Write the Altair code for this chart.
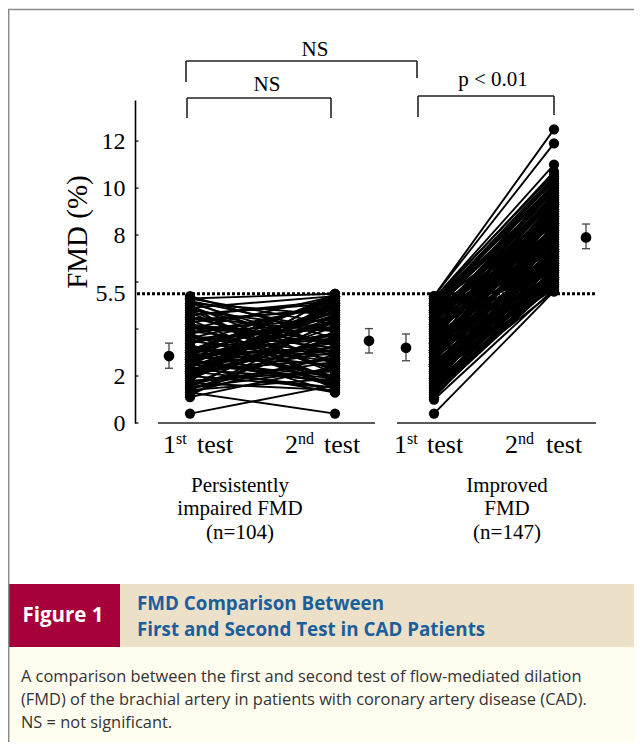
import altair as alt
import pandas as pd

# ---------------- data ----------------
PI_FIRST = [
    0.4, 1.1, 1.2, 1.3, 1.4, 1.5, 1.5, 1.6, 1.7, 1.8,
    1.8, 1.9, 2.0, 2.0, 2.1, 2.2, 2.2, 2.3, 2.3, 2.4,
    2.4, 2.5, 2.5, 2.6, 2.6, 2.7, 2.7, 2.8, 2.8, 2.9,
    2.9, 3.0, 3.0, 3.1, 3.1, 3.2, 3.3, 3.4, 3.5, 3.6,
    3.7, 3.8, 3.9, 4.0, 4.1, 4.2, 4.3, 4.4, 4.5, 4.6,
    4.7, 4.8, 4.9, 5.0, 5.1, 5.2, 5.3, 5.4, 1.3, 1.6,
    1.9, 2.1, 2.4, 2.6, 2.8, 3.0, 3.2, 3.5, 3.8, 4.1,
    4.4, 4.8, 5.2, 1.2, 1.7, 2.0, 2.3, 2.5, 2.7, 2.9,
    3.1, 3.3, 3.6, 3.9, 4.2, 4.6, 5.0, 5.3, 1.4, 1.8,
    2.2, 2.6, 3.0, 3.4, 3.7, 4.0, 4.5, 4.9, 1.5, 2.1,
    2.7, 3.2, 3.8, 5.1,
]
PI_SECOND = [
    1.6, 2.4, 3.9, 0.4, 1.9, 4.6, 2.8, 3.3, 1.4, 5.2,
    2.2, 4.1, 1.5, 3.6, 5.4, 2.7, 4.8, 1.8, 3.1, 4.4,
    1.3, 5.0, 3.4, 2.0, 4.3, 5.5, 1.7, 3.8, 2.5, 4.9,
    3.2, 1.6, 4.7, 2.9, 5.3, 3.7, 1.9, 4.5, 2.6, 5.1,
    3.0, 1.5, 4.2, 5.4, 2.3, 3.5, 4.9, 1.8, 3.9, 5.2,
    2.1, 4.0, 3.3, 1.4, 4.6, 2.8, 5.5, 3.6, 2.9, 4.3,
    5.1, 3.0, 4.5, 1.7, 3.8, 5.4, 2.4, 4.1, 1.6, 3.4,
    4.8, 2.2, 3.9, 4.4, 2.6, 5.0, 3.5, 1.9, 4.7, 3.1,
    5.3, 2.0, 4.0, 3.2, 1.8, 5.1, 2.5, 4.2, 3.7, 5.5,
    1.5, 4.6, 3.6, 5.2, 2.7, 4.4, 3.0, 5.4, 2.3, 4.9,
    3.8, 1.3, 5.0, 3.3,
]
IMP_FIRST = [
    0.4, 1.0, 1.1, 1.2, 1.3, 1.4, 1.5, 1.6, 1.7, 1.8,
    1.9, 2.0, 2.1, 2.2, 2.3, 2.4, 2.5, 2.6, 2.7, 2.8,
    2.9, 3.0, 3.1, 3.2, 3.3, 3.4, 3.5, 3.6, 3.7, 3.8,
    3.9, 4.0, 4.1, 4.2, 4.3, 4.4, 4.5, 4.6, 4.7, 4.8,
    4.9, 5.0, 5.1, 5.2, 5.3, 5.4, 5.4, 5.3, 5.2, 5.1,
    1.2, 1.5, 1.8, 2.1, 2.4, 2.7, 3.0, 3.3, 3.6, 3.9,
    4.2, 4.5, 4.8, 5.0, 1.4, 1.7, 2.0, 2.3, 2.6, 2.9,
    3.2, 3.5, 3.8, 4.1, 4.4, 4.7, 4.9, 1.3, 1.6, 1.9,
    2.2, 2.5, 2.8, 3.1, 3.4, 3.7, 4.0, 4.3, 4.6, 5.1,
    1.1, 1.5, 2.0, 2.4, 2.8, 3.2, 3.6, 4.0, 4.4, 4.8,
    1.4, 1.9, 2.3, 2.7, 3.1, 3.5, 3.9, 4.3, 4.7, 5.2,
    1.7, 2.2, 2.6, 3.0, 3.4, 3.8, 4.2, 4.6, 5.0, 2.5,
    2.9, 3.3, 3.7, 4.1, 4.5, 4.9, 2.1, 3.0, 3.9, 4.8,
    1.6, 2.4, 3.2, 4.0, 5.3, 2.8, 3.6, 4.4, 1.8, 3.4,
    2.6, 4.2, 3.1, 4.6, 2.0, 3.8, 5.0,
]
IMP_SECOND = [
    5.6, 5.7, 6.3, 5.9, 7.0, 6.1, 6.6, 7.4, 5.8, 6.9,
    7.8, 6.2, 7.1, 6.5, 8.3, 6.8, 7.5, 5.9, 8.0, 7.2,
    6.4, 8.6, 7.7, 9.0, 6.9, 8.2, 7.3, 9.4, 8.8, 6.7,
    9.1, 7.6, 8.5, 9.7, 6.6, 8.9, 9.9, 7.9, 10.2, 8.4,
    9.6, 10.4, 8.7, 10.7, 11.0, 12.5, 11.9, 9.3, 10.1, 9.8,
    6.0, 6.8, 7.3, 7.9, 6.4, 8.1, 7.0, 8.7, 9.2, 8.0,
    7.4, 9.5, 8.8, 10.3, 6.5, 7.6, 5.8, 7.2, 8.4, 7.9,
    6.3, 8.0, 9.6, 8.3, 10.0, 9.0, 7.7, 6.2, 5.6, 6.7,
    8.5, 7.0, 6.1, 8.9, 7.5, 7.1, 9.3, 8.6, 7.3, 10.5,
    6.6, 5.9, 6.9, 7.7, 8.2, 7.8, 6.5, 10.1, 9.4, 9.9,
    7.2, 6.3, 6.0, 7.4, 6.8, 9.8, 7.6, 9.2, 8.1, 10.0,
    6.2, 7.5, 6.7, 8.4, 9.1, 8.3, 10.2, 8.7, 9.7, 5.7,
    8.8, 6.6, 8.9, 7.1, 8.0, 10.4, 6.9, 7.3, 9.5, 8.5,
    6.4, 5.8, 8.6, 6.9, 10.6, 9.0, 7.8, 7.5, 7.0, 8.1,
    6.1, 8.2, 9.3, 9.6, 7.4, 6.0, 8.9,
]

MEAN_GROUPS = ["PI 1st", "PI 2nd", "IMP 1st", "IMP 2nd"]
MEAN_VALUES = [2.85, 3.5, 3.2, 7.9]
MEAN_LOW = [2.33, 2.98, 2.65, 7.42]
MEAN_HIGH = [3.4, 4.02, 3.79, 8.47]

CUTOFF = 5.5
Y_TICKS = [0, 2, 4, 6, 8, 10, 12]
Y_LABELS = [0, 2, 5.5, 8, 10, 12]

# ---------------- layout ----------------
PX0, PY0 = 135, 100
W, H = 495, 323
TOTAL_W = 626          # keep inside the page (642 minus both 8px margins)
BOTTOM = 742           # page row where the chart ends
RIGHT = 8 + TOTAL_W    # right edge in page pixels
Y_MAX = 13.75
XU = 5.0               # pixels per x unit
YU = H / Y_MAX


def ux(px):
    return (px - PX0) / XU


def uy(py):
    return (PY0 + H - py) / YU


SLOT = {"PI1": ux(190), "PI2": ux(335), "IMP1": ux(434), "IMP2": ux(554)}
MEAN_X = [ux(169), ux(369), ux(406), ux(586)]

SERIF = "Liberation Serif"
SANS = "Open Sans"

xs = alt.Scale(domain=[0, W / XU], nice=False, zero=False)
ys = alt.Scale(domain=[0, Y_MAX], nice=False, zero=False)

yaxis = alt.Axis(values=Y_LABELS, ticks=False, domain=True, domainColor="black",
                 domainWidth=1.6, labelFont=SERIF, labelFontSize=24, labelColor="black",
                 labelPadding=10, grid=False, title=None, format="~g")


def X(f):
    return alt.X(f, type="quantitative", scale=xs, axis=None)


def Y(f):
    return alt.Y(f, type="quantitative", scale=ys, axis=yaxis)


# ---------------- frames ----------------
rows = []
for i, (a, b) in enumerate(zip(PI_FIRST, PI_SECOND)):
    rows.append({"pid": f"p{i}", "x": SLOT["PI1"], "y": a})
    rows.append({"pid": f"p{i}", "x": SLOT["PI2"], "y": b})
for i, (a, b) in enumerate(zip(IMP_FIRST, IMP_SECOND)):
    rows.append({"pid": f"i{i}", "x": SLOT["IMP1"], "y": a})
    rows.append({"pid": f"i{i}", "x": SLOT["IMP2"], "y": b})
pairs = pd.DataFrame(rows)

means = pd.DataFrame({
    "g": MEAN_GROUPS,
    "x": MEAN_X,
    "xl": [v - 0.8 for v in MEAN_X],
    "xr": [v + 0.8 for v in MEAN_X],
    "y": MEAN_VALUES,
    "lo": MEAN_LOW,
    "hi": MEAN_HIGH,
})

cut = pd.DataFrame({"x": [ux(137)], "x2": [ux(596)], "y": [CUTOFF]})
cutoff = alt.Chart(cut).mark_rule(color="black", strokeWidth=3, strokeDash=[3, 2]).encode(
    x=X("x"), x2="x2:Q", y=Y("y"))

ticks = alt.Chart(pd.DataFrame({"y": Y_TICKS})).mark_rule(color="black", strokeWidth=1.2).encode(
    y=Y("y"), x=alt.value(0), x2=alt.value(3.5))

segs = pd.DataFrame([
    {"x": ux(158), "x2": ux(375), "y": 0.0, "y2": 0.0},
    {"x": ux(397), "x2": ux(596), "y": 0.0, "y2": 0.0},
])
xaxis_segs = alt.Chart(segs).mark_rule(color="#222", strokeWidth=1.6).encode(
    x=X("x"), x2="x2:Q", y=Y("y"), y2="y2:Q")


def bracket(x1, x2, ytop, yl, yr):
    return [
        {"x": ux(x1), "x2": ux(x2), "y": uy(ytop), "y2": uy(ytop)},
        {"x": ux(x1), "x2": ux(x1), "y": uy(ytop), "y2": uy(yl)},
        {"x": ux(x2), "x2": ux(x2), "y": uy(ytop), "y2": uy(yr)},
    ]


br = pd.DataFrame(bracket(186, 417, 61, 82, 78) + bracket(187, 331, 98, 118, 118)
                  + bracket(418, 554, 96, 117, 115))
brackets = alt.Chart(br).mark_rule(color="#222", strokeWidth=1.6).encode(
    x=X("x"), x2="x2:Q", y=Y("y"), y2="y2:Q")

lines = alt.Chart(pairs).mark_line(color="black", strokeWidth=1.9).encode(
    x=X("x"), y=Y("y"), detail="pid:N")
points = alt.Chart(pairs).mark_circle(color="black", size=105, opacity=1).encode(
    x=X("x"), y=Y("y"))

err = alt.Chart(means).mark_rule(color="#444", strokeWidth=1.3).encode(
    x=X("x"), y=Y("lo"), y2="hi:Q")
cap_lo = alt.Chart(means).mark_rule(color="#444", strokeWidth=1.3).encode(
    x=X("xl"), x2="xr:Q", y=Y("lo"))
cap_hi = alt.Chart(means).mark_rule(color="#444", strokeWidth=1.3).encode(
    x=X("xl"), x2="xr:Q", y=Y("hi"))
mean_pts = alt.Chart(means).mark_circle(color="black", size=115, opacity=1).encode(
    x=X("x"), y=Y("y"))

# test labels with superscripts
digits = pd.DataFrame({"x": [ux(176), ux(298), ux(407), ux(518)], "y": [uy(453)] * 4,
                       "t": ["1", "2", "1", "2"]})
sups = pd.DataFrame({"x": [ux(176), ux(298), ux(407), ux(518)], "y": [uy(444)] * 4,
                     "t": ["st", "nd", "st", "nd"]})
words = pd.DataFrame({"x": [ux(197), ux(324), ux(427), ux(546)], "y": [uy(453)] * 4,
                      "t": ["test"] * 4})
t_digits = alt.Chart(digits).mark_text(font=SERIF, fontSize=26, align="right",
                                       baseline="alphabetic", color="black").encode(
    x=X("x"), y=Y("y"), text="t:N")
t_sups = alt.Chart(sups).mark_text(font=SERIF, fontSize=16, align="left",
                                   baseline="alphabetic", color="black").encode(
    x=X("x"), y=Y("y"), text="t:N")
t_words = alt.Chart(words).mark_text(font=SERIF, fontSize=26, align="left",
                                     baseline="alphabetic", color="black").encode(
    x=X("x"), y=Y("y"), text="t:N")

grp = pd.DataFrame({
    "x": [ux(240)] * 3 + [ux(507)] * 3,
    "y": [uy(486), uy(509), uy(533)] * 2,
    "t": ["Persistently", "impaired FMD", "(n=104)", "Improved", "FMD", "(n=147)"],
})
t_grp = alt.Chart(grp).mark_text(font=SERIF, fontSize=21, align="center",
                                 baseline="middle", color="black").encode(
    x=X("x"), y=Y("y"), text="t:N")

sig = pd.DataFrame({"x": [ux(315), ux(267), ux(493)], "y": [uy(50), uy(85), uy(80)],
                    "t": ["NS", "NS", "p < 0.01"]})
t_sig = alt.Chart(sig).mark_text(font=SERIF, fontSize=21, align="center",
                                 baseline="middle", color="black").encode(
    x=X("x"), y=Y("y"), text="t:N")


def one():
    return alt.Chart(alt.Data(values=[{"k": 1}]))


def px_text(text, px, py, size, font, color="black", weight="normal", align="left",
            baseline="middle", angle=0):
    return one().mark_text(text=text, fontSize=size, font=font, color=color,
                           fontWeight=weight, align=align, baseline=baseline,
                           angle=angle).encode(x=alt.value(px - PX0), y=alt.value(py - PY0))


def px_rect(x1, x2, y1, y2, color):
    return one().mark_rect(color=color, opacity=1).encode(
        x=alt.value(x1 - PX0), x2=alt.value(x2 - PX0),
        y=alt.value(y1 - PY0), y2=alt.value(y2 - PY0))


def px_rule(x1, x2, y1, y2, color, w):
    return one().mark_rule(color=color, strokeWidth=w).encode(
        x=alt.value(x1 - PX0), x2=alt.value(x2 - PX0),
        y=alt.value(y1 - PY0), y2=alt.value(y2 - PY0))


ytitle = px_text("FMD (%)", 78, 232, 29, SERIF, align="center", angle=270)

red = px_rect(9, 120, 584, 647, "#a5003a")
beige = px_rect(120, RIGHT, 584, 647, "#ece0c8")
cream = px_rect(9, RIGHT, 647, BOTTOM, "#fffdf0")
frame_top = px_rule(8, RIGHT, 9.5, 9.5, "#8a8a8a", 1.5)
frame_left = px_rule(8.7, 8.7, 9.5, BOTTOM, "#8a8a8a", 1.5)

fig_lbl = px_text("Figure 1", 63, 616, 20.5, SANS, color="white", weight="bold", align="center")
title1 = px_text("FMD Comparison Between", 137, 604, 18.8, SANS, color="#1b5e9c", weight="bold")
title2 = px_text("First and Second Test in CAD Patients", 137, 630, 18.8, SANS, color="#1b5e9c",
                 weight="bold")
cap1 = px_text("A comparison between the first and second test of flow-mediated dilation",
               21, 677, 16.4, SANS, color="#333333")
cap2 = px_text("(FMD) of the brachial artery in patients with coronary artery disease (CAD).",
               21, 700, 16.4, SANS, color="#333333")
cap3 = px_text("NS = not significant.", 21, 723, 16.4, SANS, color="#333333")

chart = alt.layer(
    cutoff, ticks, xaxis_segs, brackets, lines, points, err, cap_lo, cap_hi, mean_pts,
    t_digits, t_sups, t_words, t_grp, t_sig, ytitle,
    red, beige, cream, frame_top, frame_left, fig_lbl, title1, title2, cap1, cap2, cap3,
).properties(
    width=W, height=H,
    padding={"left": PX0 - 8, "top": PY0 - 8, "right": TOTAL_W - (PX0 - 8) - W,
             "bottom": BOTTOM - PY0 - H},
    autosize=alt.AutoSizeParams(type="none"),
    background="white",
).configure_view(stroke=None)

chart.save("out.html", embed_options={"renderer": "svg", "actions": False})
